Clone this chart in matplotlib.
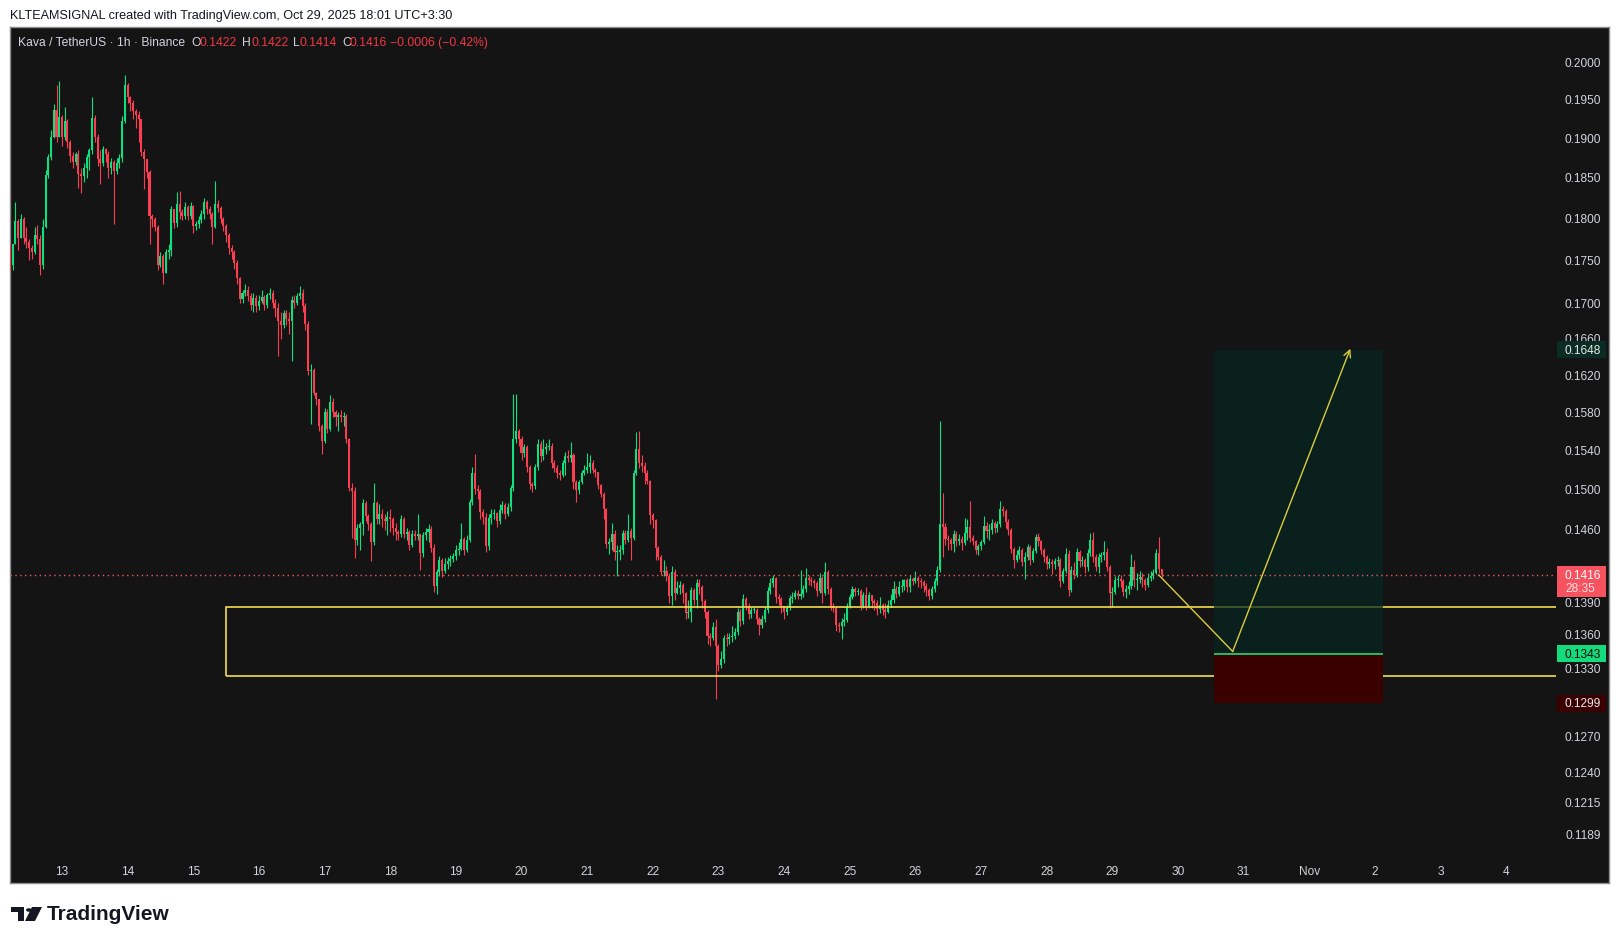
import matplotlib
matplotlib.use("Agg")
import matplotlib.pyplot as plt
import matplotlib.dates as mdates
from matplotlib.patches import Rectangle, Circle, Polygon
import numpy as np
import pandas as pd

plt.rcParams["font.family"] = ["Liberation Sans", "DejaVu Sans"]

# KAVA/USDT 1h candles, prices in 1/10000 USDT, one row per day
start_time = "2025-10-12 05:00"
first_open = 1768
closes = [
    1745, 1770, 1797, 1777, 1800, 1776, 1772, 1765, 1760, 1780, 1775, 1745, 1790, 1854, 1876, 1902, 1937, 1902, 1927,
    1902, 1922, 1895, 1878, 1870, 1880, 1855, 1852, 1862, 1876, 1885, 1926, 1902, 1873, 1868, 1886, 1880, 1862, 1870, 1858, 1868, 1875, 1922, 1969,
    1953, 1945, 1935, 1930, 1925, 1883, 1873, 1857, 1803, 1800, 1790, 1745, 1755, 1735, 1760, 1762, 1811, 1795, 1818, 1808, 1803, 1814, 1803, 1815,
    1791, 1793, 1798, 1806, 1820, 1812, 1806, 1790, 1818, 1813, 1800, 1791, 1780, 1765, 1760, 1747, 1729, 1705, 1712, 1716, 1708, 1698, 1706, 1697,
    1703, 1707, 1698, 1710, 1712, 1700, 1695, 1680, 1675, 1689, 1682, 1680, 1704, 1700, 1708, 1712, 1697, 1677, 1624, 1626, 1601, 1594, 1565, 1550,
    1580, 1562, 1591, 1580, 1575, 1577, 1575, 1576, 1552, 1501, 1498, 1450, 1462, 1465, 1486, 1473, 1465, 1448, 1486, 1470, 1475, 1470, 1468, 1472,
    1470, 1462, 1458, 1456, 1470, 1456, 1458, 1445, 1456, 1454, 1456, 1437, 1455, 1458, 1461, 1442, 1406, 1419, 1430, 1420, 1427, 1429, 1431, 1434,
    1440, 1441, 1451, 1440, 1450, 1487, 1517, 1500, 1498, 1477, 1472, 1444, 1471, 1475, 1476, 1468, 1479, 1484, 1475, 1482, 1501, 1552, 1560, 1552,
    1537, 1543, 1523, 1505, 1503, 1523, 1547, 1534, 1541, 1543, 1545, 1527, 1522, 1517, 1515, 1527, 1534, 1532, 1535, 1507, 1499, 1507, 1517, 1520,
    1523, 1527, 1520, 1518, 1504, 1495, 1480, 1446, 1448, 1456, 1438, 1438, 1440, 1457, 1450, 1459, 1452, 1517, 1541, 1527, 1524, 1517, 1509, 1474,
    1469, 1442, 1433, 1419, 1420, 1415, 1396, 1419, 1399, 1404, 1407, 1399, 1380, 1381, 1402, 1392, 1408, 1405, 1391, 1381, 1359, 1357, 1367, 1350,
    1333, 1338, 1357, 1356, 1358, 1359, 1363, 1381, 1373, 1393, 1387, 1379, 1383, 1383, 1375, 1369, 1375, 1383, 1401, 1408, 1413, 1395, 1393, 1387,
    1381, 1385, 1394, 1395, 1399, 1396, 1398, 1403, 1413, 1411, 1410, 1408, 1401, 1413, 1399, 1419, 1403, 1387, 1385, 1369, 1368, 1372, 1374, 1387,
    1395, 1403, 1400, 1401, 1387, 1397, 1387, 1397, 1391, 1390, 1384, 1388, 1383, 1381, 1388, 1392, 1403, 1398, 1405, 1406, 1411, 1405, 1412, 1410,
    1413, 1410, 1409, 1406, 1402, 1396, 1403, 1410, 1421, 1465, 1463, 1451, 1450, 1446, 1456, 1449, 1451, 1447, 1457, 1463, 1452, 1449, 1440, 1444,
    1448, 1464, 1459, 1460, 1466, 1462, 1465, 1480, 1478, 1467, 1460, 1441, 1430, 1435, 1440, 1428, 1433, 1443, 1430, 1439, 1453, 1449, 1440, 1433,
    1427, 1428, 1427, 1429, 1430, 1410, 1420, 1436, 1402, 1421, 1416, 1438, 1429, 1430, 1424, 1437, 1450, 1433, 1424, 1433, 1435, 1438, 1424, 1399,
    1400, 1411, 1412, 1410, 1400, 1403, 1406, 1424, 1411, 1412, 1414, 1411, 1407, 1413, 1415, 1418, 1437, 1422, 1416,
]
highs = [
    1770, 1770, 1820, 1800, 1805, 1802, 1790, 1775, 1768, 1790, 1792, 1780, 1800, 1860, 1880, 1910, 1944, 1969, 1975,
    1930, 1940, 1925, 1898, 1882, 1883, 1885, 1862, 1868, 1880, 1888, 1953, 1930, 1905, 1885, 1890, 1888, 1884, 1875, 1872, 1875, 1880, 1928, 1982,
    1972, 1955, 1950, 1938, 1935, 1925, 1886, 1873, 1860, 1805, 1802, 1792, 1760, 1758, 1763, 1770, 1815, 1812, 1832, 1834, 1812, 1820, 1816, 1820,
    1816, 1797, 1803, 1810, 1825, 1822, 1815, 1808, 1846, 1822, 1815, 1802, 1793, 1782, 1768, 1762, 1750, 1731, 1716, 1722, 1720, 1712, 1712, 1710,
    1710, 1715, 1710, 1712, 1718, 1715, 1705, 1700, 1690, 1692, 1692, 1690, 1708, 1710, 1712, 1720, 1717, 1700, 1680, 1632, 1628, 1602, 1594, 1567,
    1584, 1583, 1598, 1595, 1582, 1580, 1582, 1580, 1578, 1553, 1506, 1502, 1465, 1467, 1490, 1488, 1475, 1467, 1506, 1488, 1485, 1480, 1475, 1478,
    1480, 1472, 1466, 1460, 1474, 1472, 1462, 1460, 1460, 1460, 1475, 1456, 1458, 1462, 1465, 1464, 1446, 1422, 1434, 1432, 1432, 1433, 1435, 1437,
    1445, 1448, 1466, 1453, 1455, 1490, 1523, 1536, 1504, 1500, 1480, 1476, 1475, 1480, 1480, 1477, 1485, 1488, 1486, 1486, 1504, 1599, 1600, 1562,
    1555, 1547, 1546, 1525, 1508, 1526, 1552, 1550, 1552, 1548, 1552, 1548, 1530, 1525, 1520, 1530, 1538, 1540, 1549, 1537, 1510, 1510, 1520, 1525,
    1537, 1535, 1530, 1522, 1518, 1505, 1497, 1481, 1452, 1466, 1460, 1445, 1445, 1460, 1460, 1475, 1462, 1520, 1559, 1560, 1535, 1528, 1520, 1510,
    1476, 1470, 1444, 1435, 1430, 1425, 1418, 1425, 1422, 1410, 1410, 1408, 1400, 1392, 1405, 1404, 1412, 1412, 1407, 1393, 1383, 1362, 1372, 1375,
    1352, 1345, 1360, 1362, 1362, 1368, 1366, 1385, 1384, 1398, 1395, 1390, 1386, 1386, 1385, 1377, 1378, 1386, 1405, 1413, 1416, 1414, 1398, 1395,
    1386, 1388, 1397, 1400, 1402, 1402, 1421, 1407, 1423, 1416, 1414, 1412, 1410, 1418, 1415, 1428, 1421, 1405, 1390, 1387, 1372, 1376, 1380, 1390,
    1398, 1406, 1405, 1404, 1403, 1400, 1405, 1400, 1395, 1393, 1392, 1395, 1390, 1390, 1392, 1398, 1410, 1406, 1410, 1412, 1412, 1413, 1416, 1414,
    1420, 1415, 1413, 1411, 1408, 1404, 1406, 1413, 1425, 1571, 1496, 1466, 1455, 1452, 1460, 1459, 1456, 1454, 1471, 1470, 1488, 1455, 1450, 1446,
    1450, 1473, 1467, 1465, 1470, 1468, 1468, 1488, 1483, 1480, 1470, 1462, 1443, 1440, 1444, 1442, 1438, 1446, 1445, 1442, 1456, 1457, 1450, 1442,
    1435, 1432, 1431, 1432, 1434, 1432, 1423, 1442, 1440, 1425, 1428, 1442, 1440, 1434, 1432, 1441, 1457, 1458, 1436, 1437, 1438, 1449, 1442, 1426,
    1405, 1415, 1416, 1416, 1412, 1407, 1410, 1436, 1430, 1418, 1420, 1418, 1413, 1418, 1420, 1422, 1441, 1453, 1422,
]
lows = [
    1739, 1739, 1770, 1762, 1777, 1770, 1765, 1750, 1752, 1757, 1770, 1733, 1740, 1788, 1850, 1872, 1900, 1895, 1905,
    1890, 1898, 1888, 1870, 1862, 1866, 1838, 1831, 1845, 1850, 1860, 1880, 1895, 1865, 1842, 1865, 1870, 1850, 1855, 1793, 1855, 1862, 1870, 1920,
    1945, 1935, 1925, 1913, 1895, 1878, 1836, 1850, 1770, 1790, 1785, 1739, 1742, 1722, 1735, 1752, 1755, 1788, 1790, 1800, 1798, 1800, 1798, 1800,
    1783, 1786, 1788, 1795, 1800, 1805, 1800, 1770, 1788, 1808, 1795, 1785, 1772, 1758, 1752, 1740, 1722, 1700, 1700, 1708, 1703, 1692, 1690, 1690,
    1692, 1700, 1693, 1695, 1705, 1695, 1685, 1641, 1660, 1672, 1676, 1665, 1635, 1695, 1698, 1705, 1690, 1670, 1620, 1567, 1598, 1588, 1560, 1536,
    1548, 1558, 1560, 1575, 1565, 1560, 1570, 1565, 1548, 1498, 1452, 1432, 1445, 1440, 1455, 1468, 1460, 1429, 1445, 1465, 1465, 1463, 1460, 1455,
    1458, 1455, 1450, 1450, 1453, 1452, 1450, 1440, 1443, 1450, 1450, 1421, 1433, 1450, 1448, 1438, 1400, 1398, 1415, 1414, 1418, 1422, 1425, 1428,
    1430, 1435, 1440, 1435, 1438, 1448, 1484, 1495, 1490, 1470, 1465, 1438, 1440, 1465, 1470, 1463, 1465, 1476, 1470, 1473, 1478, 1498, 1548, 1545,
    1530, 1533, 1518, 1500, 1497, 1500, 1520, 1528, 1530, 1536, 1540, 1522, 1518, 1512, 1510, 1513, 1515, 1528, 1528, 1500, 1487, 1495, 1505, 1515,
    1517, 1517, 1517, 1513, 1500, 1492, 1470, 1442, 1436, 1440, 1430, 1415, 1430, 1436, 1446, 1448, 1430, 1450, 1515, 1522, 1518, 1505, 1505, 1465,
    1462, 1430, 1430, 1416, 1415, 1410, 1390, 1388, 1392, 1398, 1398, 1390, 1375, 1376, 1372, 1388, 1385, 1398, 1385, 1376, 1352, 1350, 1355, 1303,
    1327, 1330, 1335, 1350, 1352, 1354, 1356, 1360, 1368, 1370, 1383, 1375, 1376, 1380, 1370, 1360, 1366, 1372, 1380, 1398, 1405, 1390, 1388, 1380,
    1375, 1378, 1383, 1390, 1393, 1393, 1393, 1395, 1400, 1407, 1406, 1404, 1396, 1399, 1390, 1397, 1398, 1383, 1381, 1364, 1363, 1356, 1368, 1372,
    1385, 1393, 1396, 1397, 1383, 1385, 1383, 1385, 1385, 1383, 1378, 1380, 1378, 1376, 1380, 1386, 1390, 1394, 1396, 1400, 1402, 1400, 1400, 1407,
    1408, 1405, 1404, 1400, 1396, 1392, 1393, 1400, 1407, 1419, 1433, 1445, 1440, 1440, 1438, 1444, 1445, 1440, 1445, 1450, 1448, 1445, 1436, 1435,
    1440, 1446, 1452, 1450, 1456, 1457, 1458, 1463, 1473, 1462, 1455, 1437, 1423, 1428, 1431, 1425, 1412, 1430, 1426, 1428, 1437, 1444, 1436, 1428,
    1422, 1423, 1417, 1422, 1425, 1405, 1408, 1418, 1396, 1400, 1412, 1414, 1424, 1425, 1418, 1420, 1434, 1428, 1420, 1418, 1428, 1430, 1420, 1385,
    1386, 1398, 1405, 1405, 1396, 1394, 1398, 1403, 1405, 1402, 1408, 1405, 1402, 1405, 1410, 1412, 1417, 1418, 1414,
]

price_ticks = [0.2000, 0.1950, 0.1900, 0.1850, 0.1800, 0.1750, 0.1700, 0.1660, 0.1620, 0.1580, 0.1540,
               0.1500, 0.1460, 0.1420, 0.1390, 0.1360, 0.1330, 0.1300, 0.1270, 0.1240, 0.1215, 0.1189]
day_ticks = pd.date_range("2025-10-13", "2025-11-04", freq="D")
day_labels = ["13", "14", "15", "16", "17", "18", "19", "20", "21", "22", "23", "24",
              "25", "26", "27", "28", "29", "30", "31", "Nov", "2", "3", "4"]

# drawings on the chart
zone_start = "2025-10-15 12:00"
zone_top, zone_bottom = 0.13856, 0.13226
pos_start, pos_end = "2025-10-30 13:00", "2025-11-02 03:00"
entry, target, stop = 0.1343, 0.1648, 0.1299
path_times = ["2025-10-29 17:00", "2025-10-30 20:00", "2025-11-01 15:00"]
path_prices = [0.1416, 0.1345, 0.1649]
last_price = 0.1416
countdown = "28:35"

# colours
BG = "#141414"
UP = "#0fe07f"
DOWN = "#fb3e52"
YELLOW = "#f2de4c"
TXT = "#d1d4dc"

W, H = 1620, 944


def fig_box(left, top, right, bottom):
    return [left / W, 1 - bottom / H, (right - left) / W, (bottom - top) / H]


fig = plt.figure(figsize=(W / 100, H / 100), dpi=100)
fig.patch.set_facecolor("white")

bg = fig.add_axes(fig_box(10, 27, 1609, 883))
bg.set_facecolor(BG)
bg.set_xticks([])
bg.set_yticks([])
for s in bg.spines.values():
    s.set_color("#8c8c8c")
    s.set_linewidth(1)

ax = fig.add_axes(fig_box(10, 27, 1556, 883))
ax.set_facecolor("none")
ax.axis("off")
ax.set_yscale("log")
ax.set_ylim(0.11509, 0.20477)
ax.set_xlim(mdates.date2num(pd.Timestamp("2025-10-12 05:00")),
            mdates.date2num(pd.Timestamp("2025-11-04 18:12")))

c = np.array(closes) / 10000
hi = np.array(highs) / 10000
lo = np.array(lows) / 10000
o = np.concatenate([[first_open / 10000], c[:-1]])
hi = np.maximum(hi, np.maximum(o, c))
lo = np.minimum(lo, np.minimum(o, c))
t = mdates.date2num(pd.date_range(start_time, periods=len(c), freq="h").to_pydatetime())
col = np.where(c >= o, UP, DOWN)

ax.vlines(t, lo, hi, colors=col, lw=0.8, zorder=3)
body_lo = np.minimum(o, c)
body_h = np.maximum(np.abs(c - o), 0.00008)
ax.bar(t, body_h, bottom=body_lo, width=0.75 / 24, color=col, lw=0, zorder=4)

# support zone
zt = mdates.date2num(pd.Timestamp(zone_start))
ax.add_patch(Rectangle((zt, zone_bottom), 40, zone_top - zone_bottom, fill=False,
                       ec=YELLOW, lw=1.2, zorder=6))

# long position tool
ps = mdates.date2num(pd.Timestamp(pos_start))
pe = mdates.date2num(pd.Timestamp(pos_end))
ax.add_patch(Rectangle((ps, entry), pe - ps, target - entry, fc="#052621", alpha=0.72,
                       ec="none", zorder=7))
ax.add_patch(Rectangle((ps, stop), pe - ps, entry - stop, fc="#3a0000", ec="none", zorder=7))
ax.hlines(entry, ps, pe, color="#28c86a", lw=1.3, zorder=8)

# current price line
ax.axhline(last_price, color="#f05a5a", lw=1, ls=(0, (1, 2.5)), zorder=9)

# projected path
pt = mdates.date2num(pd.to_datetime(path_times).to_pydatetime())
ax.plot(pt[:2], path_prices[:2], color="#dccb3e", lw=1, zorder=10)
ax.annotate("", xy=(pt[2], path_prices[2]), xytext=(pt[1], path_prices[1]),
            arrowprops=dict(arrowstyle="->,head_length=0.5,head_width=0.25",
                            color="#dccb3e", lw=1, shrinkA=0, shrinkB=0), zorder=10)

# date labels
for d, lab in zip(day_ticks, day_labels):
    ax.text(mdates.date2num(d), 0.0130, lab, transform=ax.get_xaxis_transform(),
            ha="center", va="center", color=TXT, fontsize=8.6, clip_on=False)


# price scale
def disp_y(price):
    return ax.transData.transform((t[0], price))[1]


for p in price_ticks:
    fig.text(1601 / W, (disp_y(p) - 1.5) / H, f"{p:.4f}", ha="right", va="center",
             color=TXT, fontsize=8.6, zorder=4)


def tag(price, text, fc, tc, top=8.5, bottom=8.5):
    y = disp_y(price)
    fig.add_artist(Rectangle((1557 / W, (y - bottom) / H), 49 / W, (top + bottom) / H,
                             transform=fig.transFigure, fc=fc, ec="none", zorder=5))
    fig.text(1601 / W, (y - 1) / H, text, ha="right", va="center", color=tc, fontsize=8.6, zorder=6)
    return y


tag(target, f"{target:.4f}", "#0a2c22", "#e8e8e8")
tag(entry, f"{entry:.4f}", "#14dc7c", "#0b0b0b")
tag(stop, f"{stop:.4f}", "#3a0000", "#e8e8e8")
yl = tag(last_price, f"{last_price:.4f}", "#f7525f", "#ffffff", top=9, bottom=22)
fig.text(1565 / W, (yl - 14) / H, countdown, ha="left", va="center",
         color="#ffe3e5", fontsize=8.6, zorder=6)

# header
fig.text(10 / W, 1 - 15.5 / H, "KLTEAMSIGNAL created with TradingView.com, Oct 29, 2025 18:01 UTC+3:30",
         ha="left", va="center", color="#131722", fontsize=9.1)
legend_y = 1 - 43 / H
fig.text(18 / W, legend_y, "Kava / TetherUS · 1h · Binance", ha="left", va="center",
         color=TXT, fontsize=8.7)
for lx, letter, vx, val in [(191, "O", 199, "0.1422"), (242, "H", 251, "0.1422"),
                            (293, "L", 300, "0.1414"), (342, "C", 350, "0.1416")]:
    fig.text(lx / W, legend_y, letter, ha="left", va="center", color=TXT, fontsize=8.7)
    fig.text(vx / W, legend_y, val, ha="left", va="center", color="#f23645", fontsize=8.7)
fig.text(390 / W, legend_y, "\u22120.0006 (\u22120.42%)", ha="left", va="center",
         color="#f23645", fontsize=8.7)


# TradingView logo
def px(x, y):
    return (x / W, 1 - y / H)


logo_kw = dict(transform=fig.transFigure, fc="#131722", ec="none")
fig.add_artist(Rectangle(px(11, 912), 13 / W, 5 / H, **logo_kw))
fig.add_artist(Rectangle(px(18, 921), 6 / W, 14 / H, **logo_kw))
fig.add_artist(Polygon([px(32, 907), px(42, 907), px(35, 921), px(25, 921)], **logo_kw))
fig.add_artist(Circle(px(29, 910), 3 / W, **logo_kw))
fig.text(47 / W, 1 - 914 / H, "TradingView", ha="left", va="center", color="#131722",
         fontsize=15, fontweight="bold")

fig.savefig("out.png", dpi=100, facecolor="white")
